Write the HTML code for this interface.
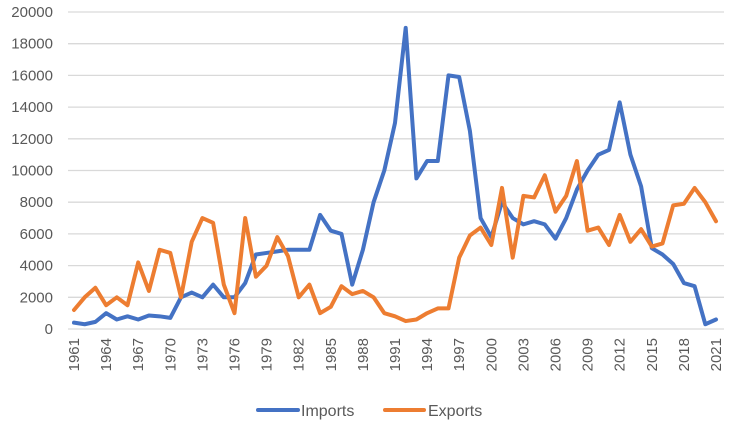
<!DOCTYPE html>
<html><head><meta charset="utf-8"><style>
body{margin:0;background:#fff;width:731px;height:426px;overflow:hidden}
text{font-family:"Liberation Sans Narrow","Liberation Sans",sans-serif;fill:#595959}
</style></head><body>
<svg id="chart" width="731" height="426" xmlns="http://www.w3.org/2000/svg"></svg>
<script>
const years = [];
for (let y = 1961; y <= 2021; y++) years.push(y);
const imports = [400,300,450,1000,600,800,600,850,800,700,2000,2300,2000,2800,2000,2000,2900,4700,4800,4900,5000,5000,5000,7200,6200,6000,2800,5000,8000,10000,13000,19000,9500,10600,10600,16000,15900,12500,7000,5800,8000,7000,6600,6800,6600,5700,7000,8800,10000,11000,11300,14300,11000,9000,5100,4700,4100,2900,2700,300,600];
const exportsData = [1200,2000,2600,1500,2000,1500,4200,2400,5000,4800,2000,5500,7000,6700,2800,1000,7000,3300,4000,5800,4600,2000,2800,1000,1400,2700,2200,2400,2000,1000,800,500,600,1000,1300,1300,4500,5900,6400,5300,8900,4500,8400,8300,9700,7400,8400,10600,6200,6400,5300,7200,5500,6300,5200,5400,7800,7900,8900,8000,6800];
const yTicks = [0,2000,4000,6000,8000,10000,12000,14000,16000,18000,20000];

const svg = document.getElementById('chart');
const NS = 'http://www.w3.org/2000/svg';
const x0 = 74, x1 = 716, yTop = 12, yBot = 329, yMax = 20000;
const xs = i => x0 + (x1 - x0) * i / (years.length - 1);
const ys = v => yBot - (yBot - yTop) * v / yMax;
function mk(tag, attrs){const e=document.createElementNS(NS,tag);for(const k in attrs)e.setAttribute(k,attrs[k]);svg.appendChild(e);return e;}

yTicks.forEach(t=>{
  const g = mk('line',{x1:68,x2:724,y1:ys(t),y2:ys(t),stroke:'#d9d9d9','stroke-width':1.3});
  
  
  const lb = mk('text',{x:53,y:ys(t)+5,'text-anchor':'end','font-size':15});
  lb.textContent = t;
  
  
});
years.forEach((yr,i)=>{
  if ((yr-1961)%3!==0) return;
  const x = xs(i);
  const lb = mk('text',{x:0,y:0,'text-anchor':'end','font-size':15,transform:`translate(${x+5},${338}) rotate(-90)`});
  lb.textContent = yr;
  
  
});
function series(data,color,name){
  const p = mk('polyline',{points:data.map((v,i)=>xs(i)+','+ys(v)).join(' '),fill:'none',stroke:color,'stroke-width':4,'stroke-linejoin':'round','stroke-linecap':'round'});
  
  
}
series(imports,'#4472c4','imports-line');
series(exportsData,'#ed7d31','exports-line');

const l1 = mk('line',{x1:258,x2:298,y1:410,y2:410,stroke:'#4472c4','stroke-width':4,'stroke-linecap':'round'});


const t1 = mk('text',{x:301,y:416,'font-size':16});
t1.textContent='Imports';


const l2 = mk('line',{x1:385,x2:424,y1:410,y2:410,stroke:'#ed7d31','stroke-width':4,'stroke-linecap':'round'});


const t2 = mk('text',{x:428,y:416,'font-size':16});
t2.textContent='Exports';


</script>
</body></html>
